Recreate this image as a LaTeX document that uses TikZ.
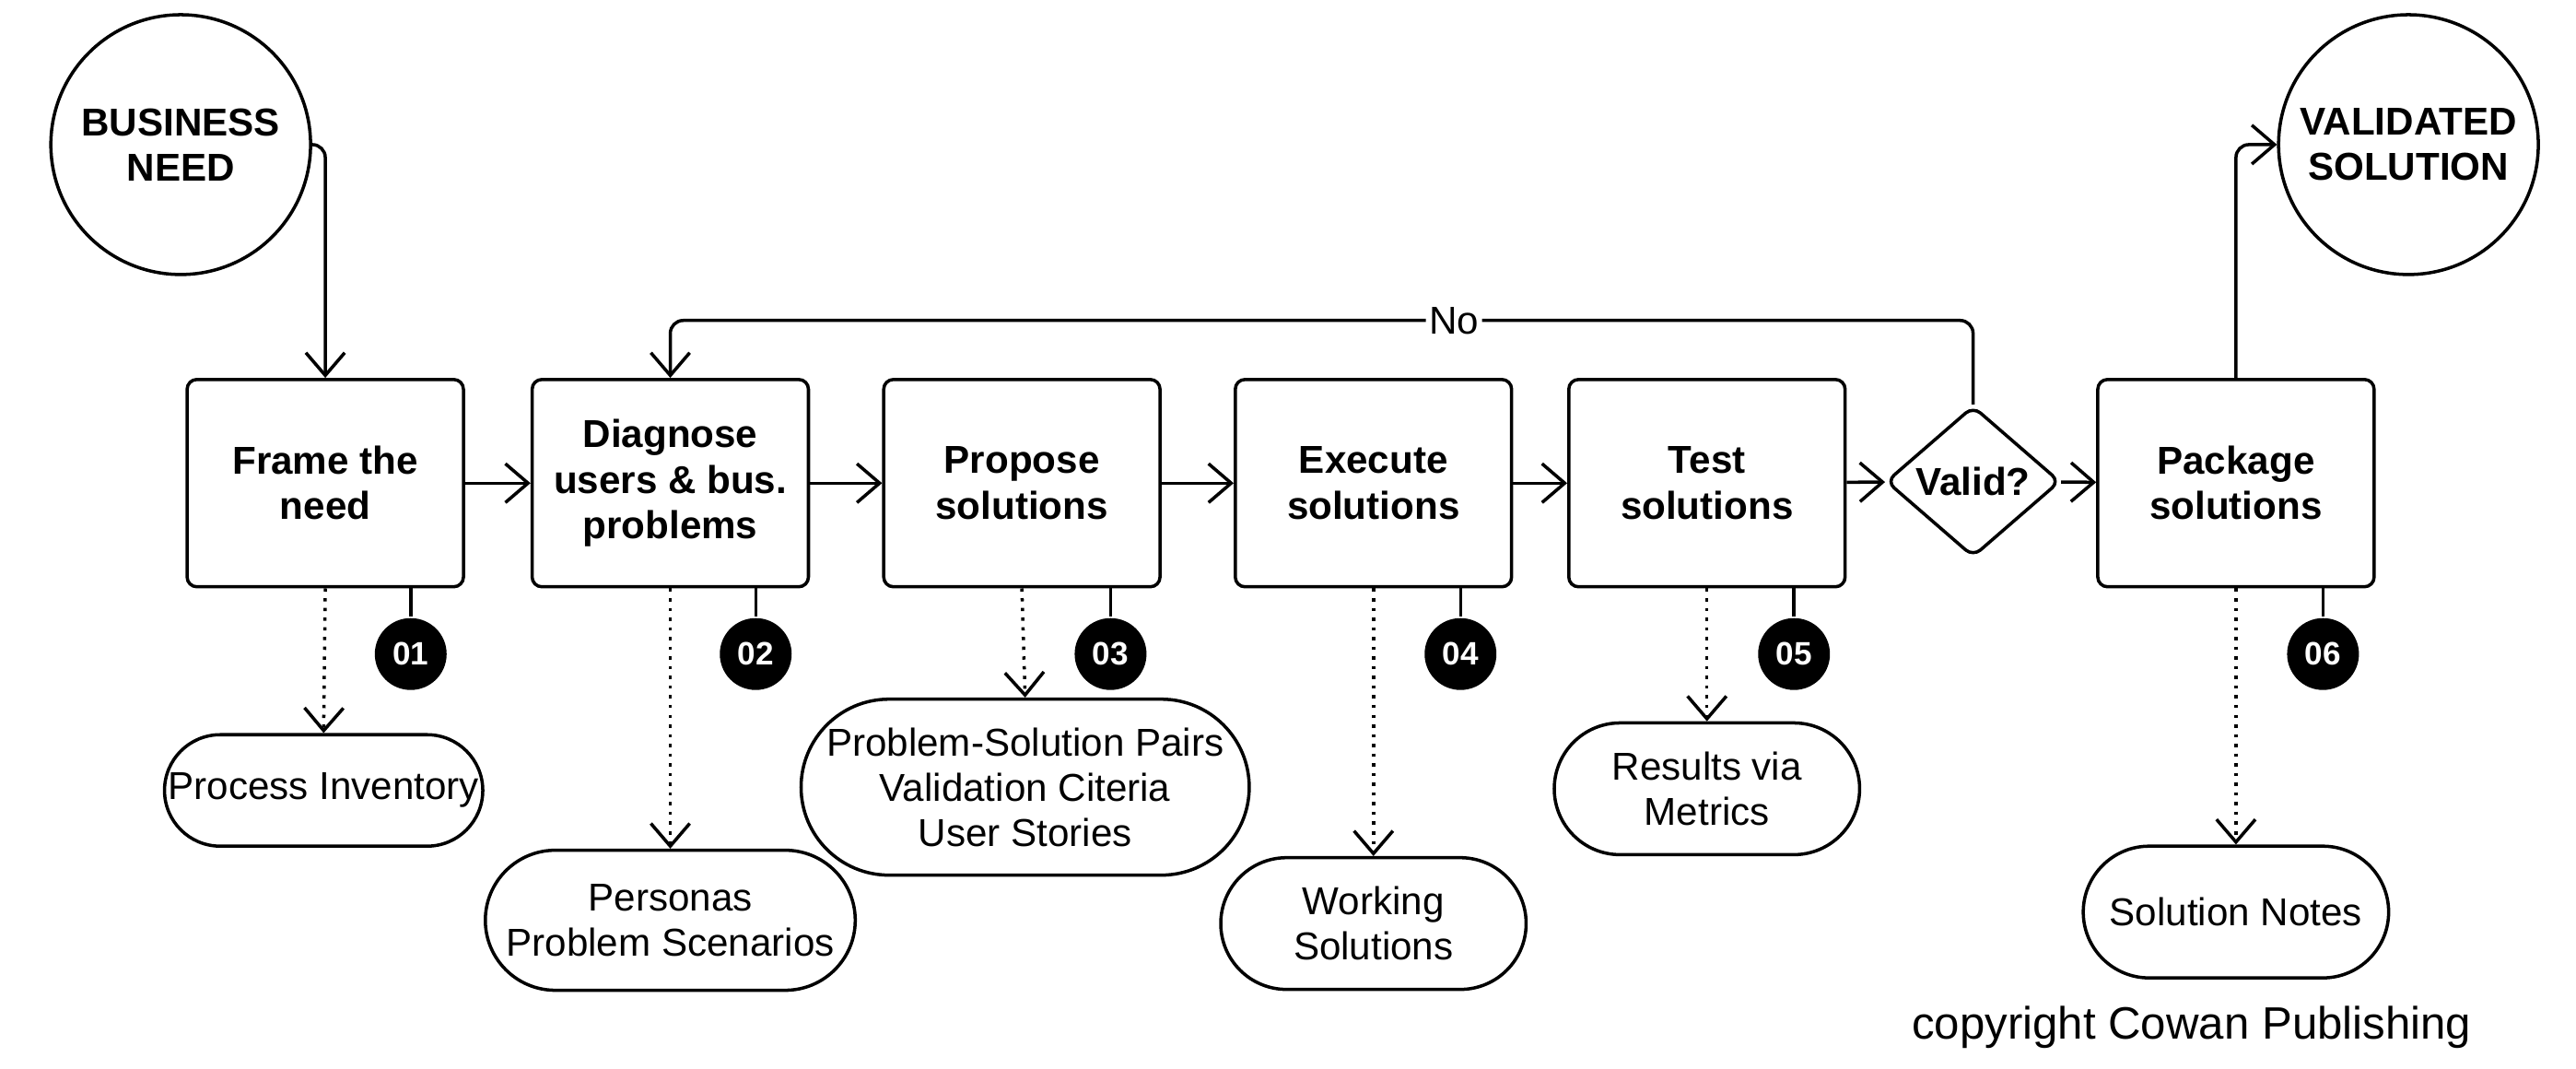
\documentclass[tikz,border=0pt]{standalone}
\usepackage{fontspec}
\setmainfont{Liberation Sans}
\usetikzlibrary{shapes.geometric,shapes.misc,arrows.meta,positioning}
\begin{document}
\begin{tikzpicture}[x=0.01783cm,y=-0.01783cm,line width=1pt,
 box/.style={draw,rounded corners=3pt,minimum width=3cm,minimum height=2.25cm,align=center,font=\bfseries\fontsize{12}{14}\selectfont},
 circ/.style={draw,circle,minimum size=2.82cm,align=center,font=\bfseries\fontsize{12}{14}\selectfont},
 num/.style={circle,fill=black,text=white,minimum size=0.78cm,inner sep=0pt,font=\bfseries\fontsize{10}{12}\selectfont},
 outp/.style={draw,rounded rectangle,align=center,font=\fontsize{12}{14}\selectfont},
 arr/.style={-{Straight Barb[length=7pt,width=12pt]}},
 dot/.style={arr,dotted}]
\useasboundingbox (0,0) rectangle (1568,650);
\node[circ] (bn) at (110,88) {BUSINESS\\NEED};
\node[circ] (vs) at (1466,88) {VALIDATED\\SOLUTION};
\node[box] (b1) at (198,294) {Frame the\\need};
\node[box] (b2) at (408,294) {Diagnose\\users \& bus.\\problems};
\node[box] (b3) at (622,294) {Propose\\solutions};
\node[box] (b4) at (836,294) {Execute\\solutions};
\node[box] (b5) at (1039,294) {Test\\solutions};
\node[draw,diamond,aspect=1.15,inner sep=1pt,minimum width=1.89cm,minimum height=1.64cm,rounded corners=3pt,font=\bfseries\fontsize{12}{14}\selectfont] (v) at (1201,293) {Valid?};
\node[box] (b6) at (1361,294) {Package\\solutions};
\foreach \i/\x in {1/250,2/460,3/676,4/889,5/1092,6/1414}{
 \node[num] (n\i) at (\x,398) {0\i};
 \coordinate (t\i) at (\x,357);
 \draw (t\i) -- (n\i);}
\node[outp,minimum width=3.69cm,minimum height=1.21cm] (o1) at (197,481) {Process Inventory};
\node[outp,minimum width=3.98cm,minimum height=1.52cm] (o2) at (408,560) {Personas\\Problem Scenarios};
\node[outp,minimum width=5.1cm,minimum height=1.91cm] (o3) at (624,479) {Problem-Solution Pairs\\Validation Citeria\\User Stories};
\node[outp,minimum width=3.55cm,minimum height=1.43cm] (o4) at (836,562) {Working\\Solutions};
\node[outp,minimum width=3.55cm,minimum height=1.43cm] (o5) at (1039,480) {Results via\\Metrics};
\node[outp,minimum width=3.55cm,minimum height=1.43cm] (o6) at (1361,555) {Solution Notes};
\draw[dot] (b1.south) -- (o1.north);
\draw[dot] (b2.south) -- (o2.north);
\draw[dot] (b3.south) -- (o3.north);
\draw[dot] (b4.south) -- (o4.north);
\draw[dot] (b5.south) -- (o5.north);
\draw[dot] (b6.south) -- (o6.north);
\draw[arr] (b1) -- (b2);
\draw[arr] (b2) -- (b3);
\draw[arr] (b3) -- (b4);
\draw[arr] (b4) -- (b5);
\draw[arr] (b5) -- (v);
\draw[arr] (v) -- (b6);
\draw[arr,rounded corners=4pt] (bn.east) -| (b1.north);
\draw[arr,rounded corners=4pt] (v.north) |- (885,195) node[fill=white,inner sep=1pt,font=\fontsize{12}{14}\selectfont]{No} -| (b2.north);
\draw[arr,rounded corners=4pt] (b6.north) |- (vs.west);
\node[font=\fontsize{14}{16}\selectfont] (cp) at (1334,625) {copyright Cowan Publishing};
\end{tikzpicture}
\end{document}
